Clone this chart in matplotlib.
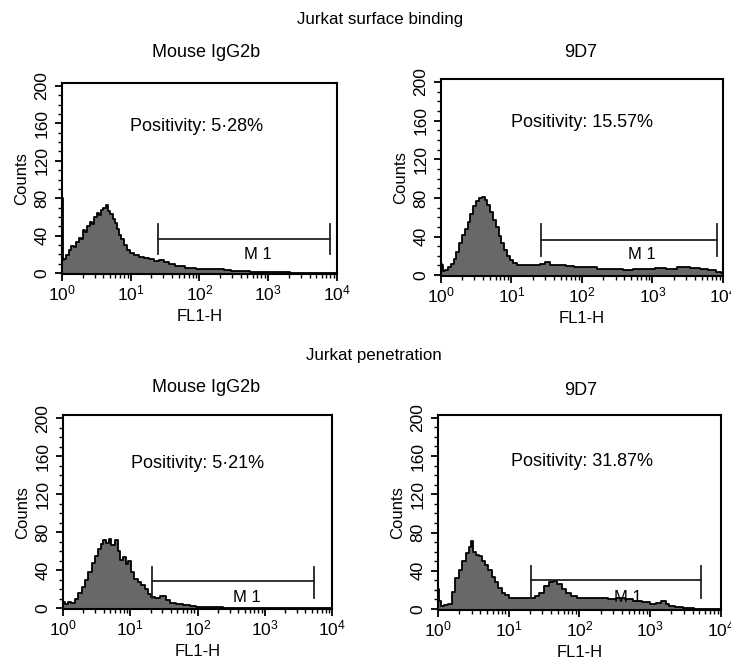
import numpy as np
import matplotlib
matplotlib.use("Agg")
import matplotlib.pyplot as plt
from matplotlib.ticker import MultipleLocator, LogLocator, LogFormatterMathtext, NullFormatter

plt.rcParams['font.family'] = ['Liberation Sans', 'DejaVu Sans']
plt.rcParams['mathtext.fontset'] = 'custom'
plt.rcParams['mathtext.rm'] = 'Liberation Sans'

# --- data (log10 of FL1-H channel, counts) ---
sb_iso_logx = [0.0, 0.01, 0.02, 0.05, 0.08, 0.12, 0.15, 0.19, 0.22, 0.26, 0.29, 0.32, 0.35, 0.39,
               0.42, 0.45, 0.49, 0.52, 0.55, 0.58, 0.62, 0.65, 0.68, 0.72, 0.75, 0.78, 0.82, 0.85,
               0.88, 0.92, 0.96, 1.02, 1.08, 1.15, 1.22, 1.3, 1.38, 1.45, 1.52, 1.6, 1.68, 1.75,
               1.82, 1.9, 2.0, 2.1, 2.2, 2.3, 2.4, 2.5, 2.65, 2.8, 3.0, 3.2, 3.4, 3.7, 4.0]
sb_iso_cnt = [145, 80, 14, 15, 19, 25, 29, 28, 33, 38, 36, 46, 44, 50, 55, 53, 60, 64, 62, 68,
              70, 73, 66, 63, 58, 54, 47, 41, 36, 30, 25, 22, 19, 17, 16, 15, 13, 14, 12, 10, 8,
              8, 6, 6, 5, 4, 5, 4, 3, 2, 2, 1, 1, 1, 0, 0, 0]

sb_9d7_logx = [0.0, 0.02, 0.05, 0.08, 0.12, 0.16, 0.2, 0.24, 0.28, 0.32, 0.36, 0.4, 0.44, 0.48,
               0.52, 0.56, 0.6, 0.64, 0.68, 0.72, 0.76, 0.8, 0.84, 0.88, 0.92, 0.96, 1.0, 1.05,
               1.1, 1.2, 1.3, 1.36, 1.45, 1.5, 1.6, 1.7, 1.83, 1.95, 2.1, 2.3, 2.5, 2.65, 2.78,
               2.95, 3.11, 3.25, 3.44, 3.6, 3.73, 3.85, 3.95, 4.0]
sb_9d7_cnt = [12, 10, 4, 5, 8, 12, 17, 24, 33, 42, 48, 55, 63, 72, 77, 80, 81, 78, 73, 65, 57,
              50, 41, 33, 26, 20, 16, 13, 11, 10, 11, 10, 12, 14, 11, 10, 9, 8, 8, 6, 6, 5, 6,
              6, 7, 6, 8, 7, 6, 5, 3, 2]

pe_iso_logx = [0.0, 0.05, 0.1, 0.15, 0.2, 0.25, 0.3, 0.35, 0.4, 0.45, 0.5, 0.54, 0.58, 0.62,
               0.66, 0.7, 0.74, 0.79, 0.83, 0.87, 0.91, 0.95, 0.99, 1.04, 1.08, 1.14, 1.19,
               1.24, 1.29, 1.34, 1.4, 1.49, 1.56, 1.63, 1.73, 1.83, 1.93, 2.03, 2.2, 2.5, 3.0, 4.0]
pe_iso_cnt = [6, 4, 6, 5, 10, 16, 22, 30, 38, 47, 55, 62, 67, 72, 68, 73, 66, 72, 60, 51, 54,
              46, 49, 38, 31, 27, 24, 20, 15, 12, 11, 13, 8, 5, 4, 3, 2, 1, 1, 0, 0, 0]

pe_9d7_logx = [0.0, 0.02, 0.06, 0.1, 0.17, 0.22, 0.27, 0.32, 0.37, 0.42, 0.46, 0.48, 0.52,
               0.56, 0.6, 0.64, 0.68, 0.74, 0.78, 0.83, 0.88, 0.93, 0.98, 1.02, 1.1, 1.18, 1.26,
               1.33, 1.4, 1.47, 1.54, 1.6, 1.66, 1.72, 1.78, 1.85, 1.92, 2.0, 2.1, 2.22, 2.34,
               2.46, 2.58, 2.7, 2.82, 2.94, 3.05, 3.12, 3.19, 3.25, 3.29, 3.4, 3.52, 3.7, 4.0]
pe_9d7_cnt = [21, 8, 3.5, 4, 5, 18, 32, 41, 50, 59, 65, 71, 60, 56, 55, 50, 46, 41, 34, 28, 22,
              17, 15, 12, 12, 11, 12, 11, 14, 17, 24, 28, 29, 26, 21, 17, 14, 12, 11, 11, 11,
              10, 11, 10, 8, 7, 5, 6, 8, 5, 3, 2, 1, 0.5, 0]

panel_data = [(sb_iso_logx, sb_iso_cnt), (sb_9d7_logx, sb_9d7_cnt),
              (pe_iso_logx, pe_iso_cnt), (pe_9d7_logx, pe_9d7_cnt)]
panel_titles = ["Mouse IgG2b", "9D7", "Mouse IgG2b", "9D7"]
positivity = ["Positivity: 5·28%", "Positivity: 15.57%", "Positivity: 5·21%", "Positivity: 31.87%"]
# M1 gate: (left, right, bar height, cap low, cap high, label x, label y)
gates = [(25, 7900, 36.5, 20, 53, 710, 20),
         (26, 8100, 36.5, 20, 53, 720, 21),
         (21, 5400, 28, 11, 43, 550, 11),
         (20.5, 5300, 30, 12, 45, 490, 12)]
section_titles = ["Jurkat surface binding", "Jurkat penetration"]

# axes rectangles in figure fraction
rects = [(0.0848, 0.584, 0.376, 0.290),
         (0.603, 0.581, 0.386, 0.299),
         (0.0862, 0.0759, 0.368, 0.294),
         (0.599, 0.0744, 0.387, 0.296)]
pos_xy = [(0.49, 0.775), (0.50, 0.78), (0.50, 0.75), (0.51, 0.76)]
title_xy = [(0.524, 1.162), (0.496, 1.137), (0.53, 1.144), (0.505, 1.123)]

fig = plt.figure(figsize=(7.31, 6.59), dpi=100)
fig.text(0.520, 0.970, section_titles[0], ha='center', va='center', fontsize=12.2)
fig.text(0.512, 0.461, section_titles[1], ha='center', va='center', fontsize=12.2)

for i, rect in enumerate(rects):
    ax = fig.add_axes(rect)
    lx, cnt = panel_data[i]
    x = 10 ** np.array(lx)
    ax.fill_between(x, 0, cnt, step='mid', facecolor='#686868', edgecolor='none')
    ax.step(x, cnt, where='mid', color='black', lw=1.3)
    ax.set_xscale('log')
    ax.set_xlim(1, 1e4)
    ax.set_ylim(-1, 203)

    ax.xaxis.set_major_locator(LogLocator(base=10, numticks=10))
    ax.xaxis.set_major_formatter(LogFormatterMathtext())
    ax.xaxis.set_minor_locator(LogLocator(base=10, subs=np.arange(2, 10), numticks=10))
    ax.xaxis.set_minor_formatter(NullFormatter())
    ax.yaxis.set_major_locator(MultipleLocator(40))
    ax.yaxis.set_minor_locator(MultipleLocator(10))
    ax.tick_params(which='major', direction='out', length=5, width=1.3, labelsize=12.5, pad=2)
    ax.tick_params(axis='y', which='major', pad=4)
    ax.tick_params(which='minor', direction='out', length=3, width=1.0)
    for lab in ax.get_yticklabels():
        lab.set_rotation(90)
        lab.set_va('center')
    for sp in ax.spines.values():
        sp.set_linewidth(1.5)

    ax.set_xlabel("FL1-H", fontsize=12, labelpad=4)
    ax.set_ylabel("Counts", fontsize=12, labelpad=4)
    ax.text(title_xy[i][0], title_xy[i][1], panel_titles[i], transform=ax.transAxes,
            ha='center', va='center', fontsize=13)
    ax.text(pos_xy[i][0], pos_xy[i][1], positivity[i], transform=ax.transAxes,
            ha='center', va='center', fontsize=13)

    gl, gr, gy, c0, c1, tx, ty = gates[i]
    ax.plot([gl, gr], [gy, gy], color='#222222', lw=1.3)
    ax.plot([gl, gl], [c0, c1], color='#222222', lw=1.3)
    ax.plot([gr, gr], [c0, c1], color='#222222', lw=1.3)
    ax.text(tx, ty, "M 1", ha='center', va='center', fontsize=12)

fig.savefig("out.png", dpi=100)
